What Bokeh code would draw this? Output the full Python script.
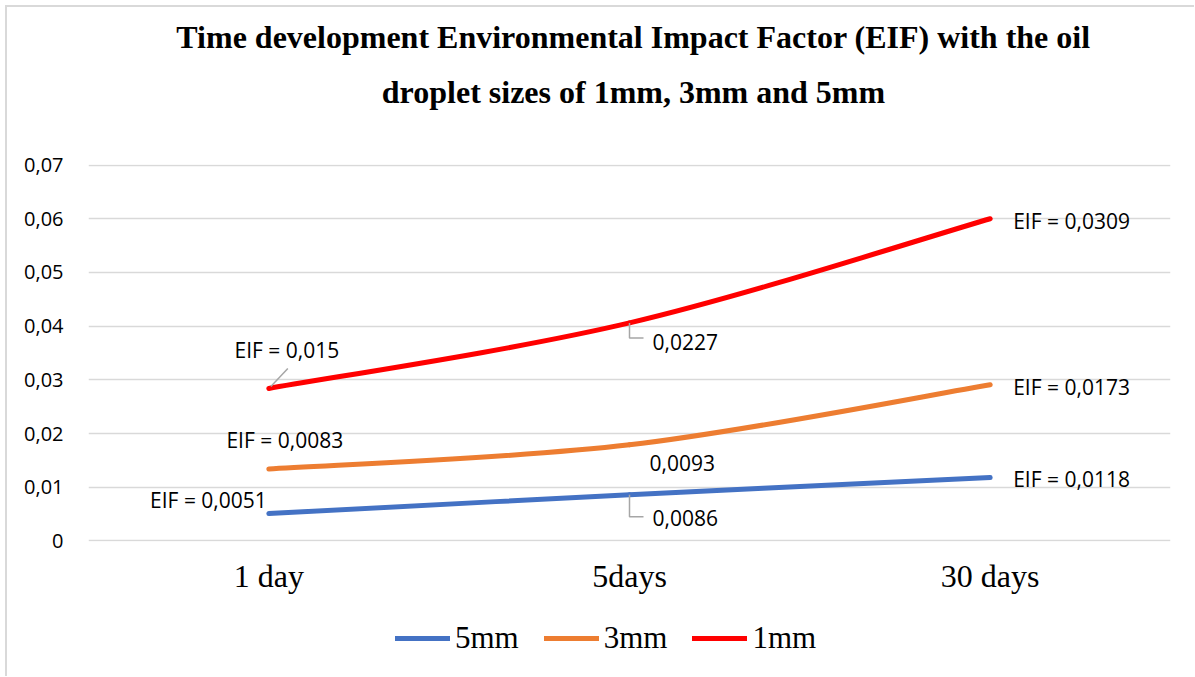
import numpy as np
from bokeh.plotting import figure
from bokeh.layouts import column
from bokeh.models import Range1d, FixedTicker, Legend, LegendItem
from bokeh.core.properties import value
from bokeh.embed import file_html
from bokeh.resources import INLINE

# ---------------- data ----------------
categories = ["1 day", "5days", "30 days"]
series_names = ["5mm", "3mm", "1mm"]
eif_5mm = [0.0051, 0.0086, 0.0118]
eif_3mm = [0.0083, 0.0093, 0.0173]
eif_1mm = [0.015, 0.0227, 0.0309]
y_ticks = [0, 0.01, 0.02, 0.03, 0.04, 0.05, 0.06, 0.07]
y_tick_labels = ["0", "0,01", "0,02", "0,03", "0,04", "0,05", "0,06", "0,07"]
title_lines = ["Time development Environmental Impact Factor (EIF) with the oil",
               "droplet sizes of 1mm, 3mm and 5mm"]
colors = ["#4472C4", "#ED7D31", "#FF0000"]

# stacked line chart (cumulative)
raw = [np.array(eif_5mm), np.array(eif_3mm), np.array(eif_1mm)]
stacked = list(np.cumsum(np.vstack(raw), axis=0))
xs = np.arange(len(categories)) + 0.5

W = 1194
H_TOP, H_MAIN, H_LEG = 140, 459, 77
FL, FR, FT, FB = 88, W - 1170, 24, 58
fw, fh = W - FL - FR, H_MAIN - FT - FB

GRID = "#d9d9d9"
left_line = "linear-gradient(%s,%s) 5px 0 / 2px 100%% no-repeat" % (GRID, GRID)
left_line_top = "linear-gradient(%s,%s) 5px 5px / 2px 100%% no-repeat" % (GRID, GRID)
top_line = "linear-gradient(%s,%s) 5px 5px / 100%% 2px no-repeat" % (GRID, GRID)


def bare_figure(h, xr, yr):
    f = figure(width=W, height=h, output_backend="svg", toolbar_location=None,
               x_range=xr, y_range=yr, x_axis_location=None, y_axis_location=None,
               min_border=0)
    f.xgrid.visible = False
    f.ygrid.visible = False
    f.outline_line_color = None
    f.background_fill_alpha = 0
    f.border_fill_alpha = 0
    return f


# ---------------- title block (frame aligned with the chart frame: 88..1170) ----------------
t = bare_figure(H_TOP, Range1d(FL, W - FR), Range1d(0, H_TOP))
t.styles = {"background": top_line + ", " + left_line_top + ", white"}
t.text(x=[633, 633], y=[H_TOP - 36, H_TOP - 91], text=title_lines,
       text_align="center", text_baseline="middle",
       text_font=value("Liberation Serif"), text_font_style="bold",
       text_font_size="32px", text_color="black")

# ---------------- main chart ----------------
p = figure(width=W, height=H_MAIN, output_backend="svg", toolbar_location=None,
           x_range=Range1d(0, 3), y_range=Range1d(-0.0001, 0.0701),
           min_border_left=FL, min_border_right=FR, min_border_top=FT, min_border_bottom=FB)
p.outline_line_color = None
p.background_fill_alpha = 0
p.border_fill_alpha = 0
p.styles = {"background": left_line + ", white"}

px_x = fw / 3.0
px_y = fh / 0.0702

p.xgrid.grid_line_color = None
p.ygrid.grid_line_color = GRID
p.ygrid.grid_line_width = 1.5

p.yaxis.ticker = FixedTicker(ticks=y_ticks)
p.yaxis.major_label_overrides = {t_: l for t_, l in zip(y_ticks, y_tick_labels)}
p.xaxis.ticker = FixedTicker(ticks=list(xs))
p.xaxis.major_label_overrides = {float(x): c for x, c in zip(xs, categories)}
for ax in (p.xaxis, p.yaxis):
    ax.axis_line_color = None
    ax.major_tick_line_color = None
    ax.minor_tick_line_color = None
    ax.major_tick_out = 0
    ax.major_tick_in = 0
p.yaxis.major_label_text_font = "Open Sans"
p.yaxis.major_label_text_font_size = "20px"
p.yaxis.major_label_text_color = "black"
p.yaxis.major_label_standoff = 25
p.xaxis.major_label_text_font = "Liberation Serif"
p.xaxis.major_label_text_font_size = "32px"
p.xaxis.major_label_text_color = "black"
p.xaxis.major_label_standoff = 16


def bezier_segments(x, y):
    n = len(x)
    P = np.column_stack([x, y])
    out = {k: [] for k in ("x0", "y0", "x1", "y1", "cx0", "cy0", "cx1", "cy1")}
    for i in range(n - 1):
        p0 = P[max(i - 1, 0)]
        p1 = P[i]
        p2 = P[i + 1]
        p3 = P[min(i + 2, n - 1)]
        c0 = p1 + (p2 - p0) / 6.0
        c1 = p2 - (p3 - p1) / 6.0
        out["x0"].append(p1[0]); out["y0"].append(p1[1])
        out["x1"].append(p2[0]); out["y1"].append(p2[1])
        out["cx0"].append(c0[0]); out["cy0"].append(c0[1])
        out["cx1"].append(c1[0]); out["cy1"].append(c1[1])
    return out


for name, ys, col in zip(series_names, stacked, colors):
    seg = bezier_segments(xs, ys)
    p.bezier(x0=seg["x0"], y0=seg["y0"], x1=seg["x1"], y1=seg["y1"],
             cx0=seg["cx0"], cy0=seg["cy0"], cx1=seg["cx1"], cy1=seg["cy1"],
             line_color=col, line_width=5, line_cap="round")

# data labels: (x_offset, y_offset, align) per series per point, in screen px
label_pos = [
    [(-2, -14, "right"), (23, 23, "left"), (23, 1, "left")],   # 5mm
    [(16, -29, "center"), (20, 18, "left"), (23, 2, "left")],  # 3mm
    [(18, -38, "center"), (23, 19, "left"), (23, 2, "left")],  # 1mm
]
for si, (vals, ys) in enumerate(zip(raw, stacked)):
    for pi in range(len(categories)):
        s = repr(float(vals[pi])).replace(".", ",")
        txt = s if pi == 1 else "EIF = " + s
        xo, yo, al = label_pos[si][pi]
        p.text(x=[xs[pi]], y=[ys[pi]], text=[txt], x_offset=xo, y_offset=yo,
               text_align=al, text_baseline="middle",
               text_font=value("Open Sans"), text_font_size="21px", text_color="black")

# leader lines (derived from point positions + pixel offsets)
lx, ly = [], []
for si, down in ((2, 15), (0, 22)):
    x0, y0 = xs[1], stacked[si][1]
    lx.append([x0, x0, x0 + 14 / px_x])
    ly.append([y0, y0 - down / px_y, y0 - down / px_y])
x0, y0 = xs[0], stacked[2][0]
lx.append([x0 + 2 / px_x, x0 + 19 / px_x])
ly.append([y0 + 2 / px_y, y0 + 20 / px_y])
p.multi_line(xs=lx, ys=ly, line_color="#a6a6a6", line_width=1.5)

# ---------------- legend block ----------------
lg = bare_figure(H_LEG, Range1d(0, 1), Range1d(0, 1))
lg.styles = {"background": left_line + ", white"}
# placeholder renderers (NaN data: nothing drawn) so the legend can show line swatches
leg_renderers = [lg.line(x=[np.nan, np.nan], y=[np.nan, np.nan], line_color=c,
                         line_width=5, line_cap="round") for c in colors]
legend = Legend(items=[LegendItem(label=n, renderers=[r]) for n, r in zip(series_names, leg_renderers)],
                orientation="horizontal", location=(395 - FL, 20),
                padding=0, margin=0, spacing=25, label_standoff=5,
                glyph_width=55, glyph_height=20,
                label_text_font="Liberation Serif", label_text_font_size="31px",
                label_text_color="black",
                border_line_alpha=0, background_fill_alpha=0)
lg.add_layout(legend)

layout = column(t, p, lg, spacing=0)
open("out.html", "w").write(file_html(layout, INLINE))
